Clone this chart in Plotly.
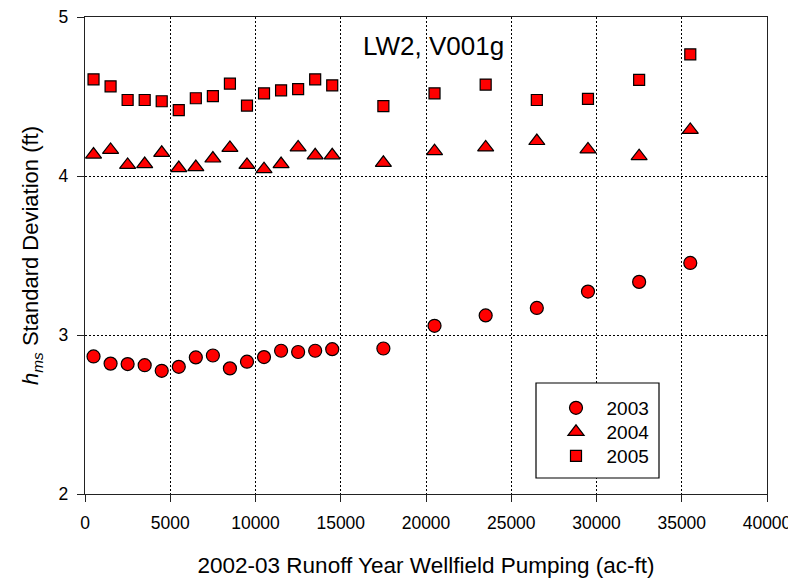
import plotly.graph_objects as go

pumping = [500, 1500, 2500, 3500, 4500, 5500, 6500, 7500, 8500, 9500, 10500,
           11500, 12500, 13500, 14500, 17500, 20500, 23500, 26500, 29500, 32500, 35500]

sd_2003 = [2.865, 2.82, 2.817, 2.81, 2.775, 2.80, 2.859, 2.871, 2.79, 2.832, 2.861,
           2.901, 2.893, 2.901, 2.911, 2.915, 3.058, 3.123, 3.17, 3.273, 3.334, 3.453]
sd_2004 = [4.135, 4.164, 4.07, 4.075, 4.146, 4.05, 4.056, 4.11, 4.177, 4.07, 4.043,
           4.075, 4.18, 4.13, 4.13, 4.083, 4.156, 4.18, 4.22, 4.167, 4.125, 4.29]
sd_2005 = [4.608, 4.564, 4.478, 4.478, 4.47, 4.414, 4.489, 4.502, 4.581, 4.443, 4.52,
           4.539, 4.547, 4.608, 4.57, 4.44, 4.52, 4.575, 4.478, 4.485, 4.604, 4.765]

series = [("2003", sd_2003, "circle", 13, "legend"),
          ("2004", sd_2004, "triangle-up", 14, "legend2"),
          ("2005", sd_2005, "square", 11, "legend3")]

x_ticks = list(range(0, 40001, 5000))
y_ticks = [2, 3, 4, 5]

# page has an 8px body margin; work in screen pixels and convert
OFF = 8
W, H = 788, 570
SL, SR, ST, SB = 85, 767, 17, 494   # plot area in screen pixels
L, T = SL - OFF, ST - OFF
R, B = W - (SR - OFF), H - (SB - OFF)
pw, ph = W - L - R, H - T - B


def px_x(p):
    return (p - OFF - L) / pw


def px_y(p):
    return (H - B - (p - OFF)) / ph


font_family = "Liberation Sans, Arial, sans-serif"

fig = go.Figure()
for name, vals, sym, sz, lg in series:
    fig.add_trace(go.Scatter(
        x=pumping, y=vals, mode="markers", name="\u00a0\u00a0" + name, legend=lg,
        marker=dict(symbol=sym, size=sz, color="#FF0000",
                    line=dict(color="black", width=1.2)),
    ))

leg_common = dict(xanchor="left", yanchor="top", bgcolor="rgba(0,0,0,0)",
                  borderwidth=0, font=dict(size=19))
row_tops = [389, 413, 437]

fig.update_layout(
    width=W, height=H,
    margin=dict(l=L, r=R, t=T, b=B, autoexpand=False),
    paper_bgcolor="white", plot_bgcolor="white",
    font=dict(family=font_family, size=17.5, color="black"),
    showlegend=True,
    legend=dict(x=px_x(556), y=px_y(row_tops[0]), **leg_common),
    legend2=dict(x=px_x(556), y=px_y(row_tops[1]), **leg_common),
    legend3=dict(x=px_x(556), y=px_y(row_tops[2]), **leg_common),
    shapes=[dict(type="rect", xref="paper", yref="paper",
                 x0=px_x(536), x1=px_x(659), y0=px_y(478), y1=px_y(383),
                 line=dict(color="black", width=1.2), fillcolor="white",
                 layer="above")],
    annotations=[dict(text="LW2, V001g", x=px_x(433), y=px_y(46), xref="paper", yref="paper",
                      xanchor="center", yanchor="middle", showarrow=False,
                      font=dict(size=26, family=font_family))],
)

fig.update_xaxes(
    range=[0, 40000], tickvals=x_ticks, ticktext=[str(v) for v in x_ticks],
    showline=True, linecolor="#222", linewidth=1.3, mirror=True,
    ticks="outside", ticklen=7, tickcolor="#222", automargin=False,
    ticklabelstandoff=6, ticklabeloverflow="allow",
    showgrid=True, gridcolor="black", griddash="2px,2px", gridwidth=1.2,
    zeroline=False,
    title=dict(text="2002-03 Runoff Year Wellfield Pumping (ac-ft)", standoff=41,
               font=dict(size=22.5)),
)
fig.update_yaxes(
    range=[2, 5], tickvals=y_ticks, ticktext=[str(v) for v in y_ticks],
    showline=True, linecolor="#222", linewidth=1.3, mirror=True,
    ticks="outside", ticklen=7, tickcolor="#222", automargin=False,
    ticklabelstandoff=5, ticklabeloverflow="allow",
    showgrid=True, gridcolor="black", griddash="2px,2px", gridwidth=1.2,
    zeroline=False,
    title=dict(text="<i>h</i><sub><i>ms</i></sub> Standard Deviation (ft)", standoff=13,
               font=dict(size=22)),
)

fig.write_html("out.html")
